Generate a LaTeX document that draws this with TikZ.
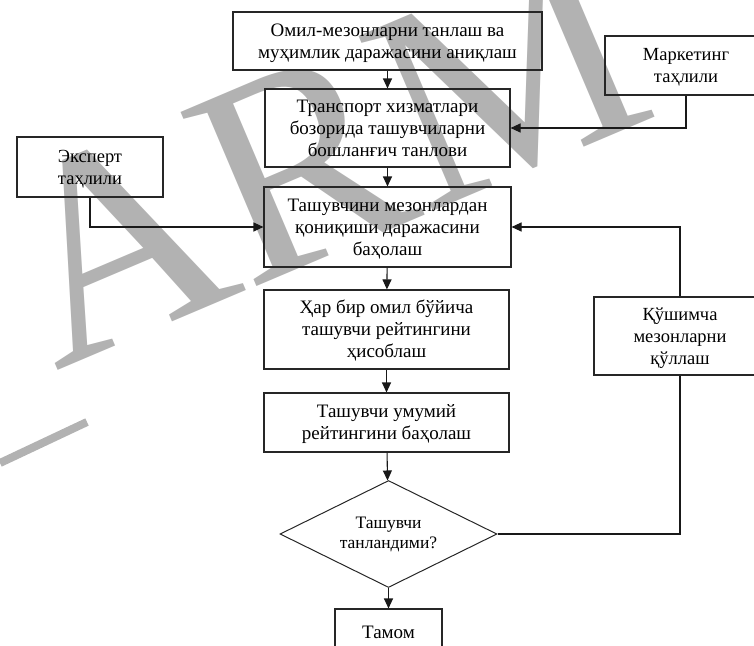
\documentclass[tikz,border=0pt]{standalone}
\usepackage{fontspec}
\setmainfont{Liberation Serif}
\usetikzlibrary{arrows.meta,shapes.geometric}

% centred block of lines, set slightly low in its box
\newcommand{\ml}[1]{\raisebox{-2pt}[\height][\depth]{\begin{tabular}{@{}c@{}}#1\end{tabular}}}
\newcommand{\dl}[1]{\begin{tabular}{@{}c@{}}#1\end{tabular}}

\tikzset{
  box/.style={draw=black!85, line width=1.1pt, rectangle, inner sep=0pt,
              font=\fontsize{19}{22}\selectfont},
  sidebox/.style={box, font=\fontsize{18.5}{22}\selectfont},
  decision/.style={draw=black!85, line width=1pt, diamond, aspect=2.03,
                   inner sep=0pt, minimum width=217pt, minimum height=107pt,
                   font=\fontsize{17.5}{20}\selectfont},
  flow/.style={draw=black!90, line width=1.1pt,
               -{Triangle[length=10pt,width=9pt]}},
  plain/.style={draw=black!90, line width=1.1pt},
  wmtext/.style={text=black!30, font=\fontsize{290}{290}\selectfont}
}

\begin{document}
\begin{tikzpicture}[x=1pt,y=-1pt]
  \useasboundingbox (0,0) rectangle (754,645);
  \clip (0,0) rectangle (754,645);

  % background watermark
  \node[wmtext, anchor=base west, rotate=23, inner sep=0pt] (wm) at (55,372) {ARM};
  \draw[black!30, line width=8pt] (0,463) -- (87,422);

  % main column
  \node[box, minimum width=309pt, minimum height=58pt] (b1) at (387.5,41)
    {\ml{Омил-мезонларни танлаш ва\\муҳимлик даражасини аниқлаш}};
  \node[box, minimum width=245pt, minimum height=78pt] (b2) at (387.5,128)
    {\ml{Транспорт хизматлари\\бозорида ташувчиларни\\бошланғич танлови}};
  \node[box, minimum width=247pt, minimum height=80pt] (b3) at (387.5,227)
    {\ml{Ташувчини мезонлардан\\қониқиши даражасини\\баҳолаш}};
  \node[box, minimum width=245pt, minimum height=79pt] (b4) at (386.5,329.5)
    {\ml{Ҳар бир омил бўйича\\ташувчи рейтингини\\ҳисоблаш}};
  \node[box, minimum width=245pt, minimum height=59pt] (b5) at (386.5,422.5)
    {\ml{Ташувчи умумий\\рейтингини баҳолаш}};
  \node[decision] (dec) at (388.5,534) {\dl{Ташувчи\\танландими?}};
  \node[box, minimum width=107pt, minimum height=46pt] (end) at (388.5,632) {\ml{Тамом}};

  % side boxes
  \node[sidebox, minimum width=162pt, minimum height=59pt] (mkt) at (686,65.5)
    {\ml{Маркетинг\\таҳлили}};
  \node[sidebox, minimum width=146pt, minimum height=60pt] (exp) at (90,167)
    {\ml{Эксперт\\таҳлили}};
  \node[sidebox, minimum width=172pt, minimum height=78pt] (add) at (680,336)
    {\ml{Қўшимча\\мезонларни\\қўллаш}};

  % connectors
  \draw[flow] (b1.south -| b2.north) -- (b2.north);
  \draw[flow] (b2) -- (b3);
  \draw[flow] (b3) -- (b4);
  \draw[flow] (b4) -- (b5);
  \draw[flow] (b5) -- (dec);
  \draw[flow] (dec) -- (end);
  \draw[flow] (mkt.south) |- (b2.east);
  \draw[flow] (exp.south) |- (b3.west);
  \draw[flow] (add.north) |- (b3.east);
  \draw[plain] (dec.east) -| (add.south);
\end{tikzpicture}
\end{document}
